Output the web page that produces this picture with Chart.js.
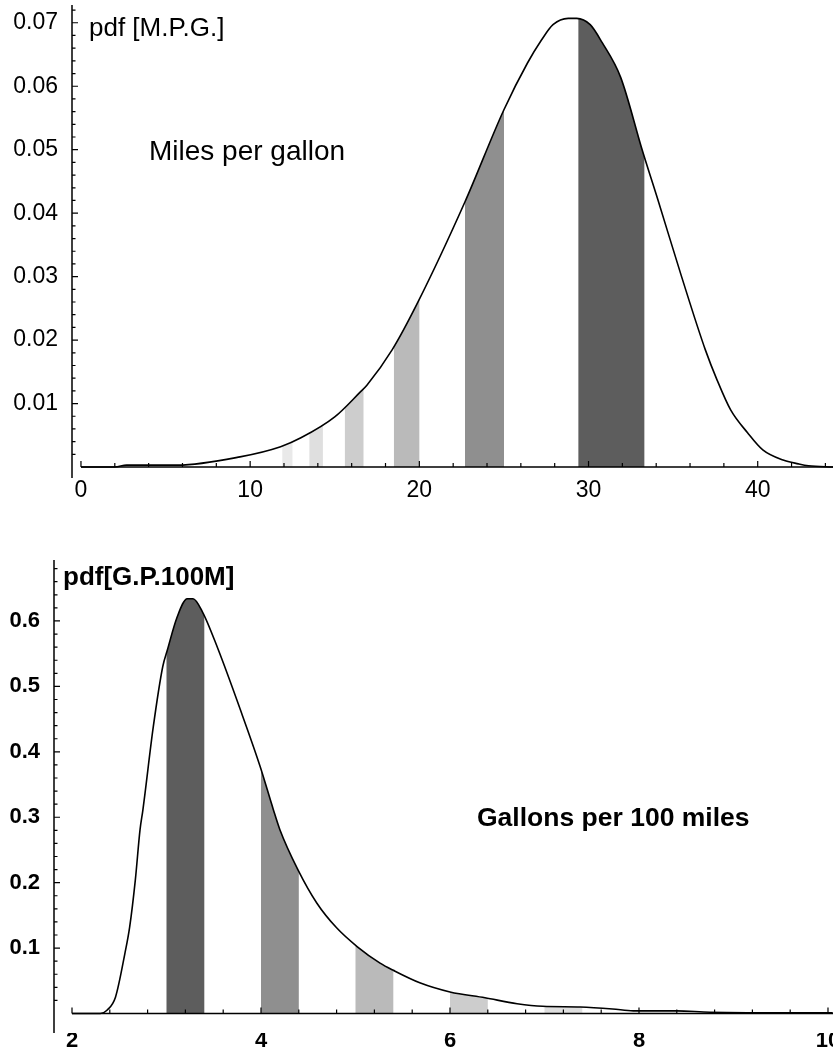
<!DOCTYPE html>
<html><head><meta charset="utf-8">
<script src="https://cdn.jsdelivr.net/npm/chart.js@4"></script>
<style>
html,body{margin:0;padding:0;background:#fff;width:833px;height:1051px;overflow:hidden}
#c1{position:absolute;left:0;top:0}
#c2{position:absolute;left:0;top:540px}
</style></head><body>
<canvas id="c1" width="833" height="510"></canvas>
<canvas id="c2" width="833" height="511"></canvas>
<script>
// ---------- Top chart: miles per gallon ----------
const mpgX   = [0, 2.0, 2.7, 5.7, 9.4, 11.8, 13.0, 15.0, 16.5, 16.9, 18.4, 19.9, 22.7, 25.0, 26.4, 27.2, 27.9, 28.8, 29.3, 30.1, 30.8, 31.9, 33.2, 34.1, 35.5, 36.9, 37.6, 38.4, 39.4, 40.3, 41.5, 42.4, 43.0, 44.5];
const mpgPdf = [0, 0, 0.0003, 0.0003, 0.0016, 0.0032, 0.0046, 0.0079, 0.0118, 0.0129, 0.0185, 0.0259, 0.0418, 0.0563, 0.0637, 0.0672, 0.0697, 0.0707, 0.0707, 0.0697, 0.0669, 0.0614, 0.0497, 0.0421, 0.0300, 0.0185, 0.0137, 0.0090, 0.0054, 0.0027, 0.0011, 0.0005, 0.0002, 0];
const mpgXTicks = [0, 10, 20, 30, 40];
const mpgXTickLabels = ['0', '10', '20', '30', '40'];
const mpgYTicks = [0.01, 0.02, 0.03, 0.04, 0.05, 0.06, 0.07];
const mpgYTickLabels = ['0.01', '0.02', '0.03', '0.04', '0.05', '0.06', '0.07'];
const mpgBandFrom = [11.9, 13.5, 15.6, 18.5, 22.7, 29.4];
const mpgBandTo   = [12.5, 14.3, 16.7, 20.0, 25.0, 33.3];
const mpgYLabel = 'pdf [M.P.G.]';
const mpgCaption = 'Miles per gallon';

// ---------- Bottom chart: gallons per 100 miles ----------
const gpmX   = [2.0, 2.30, 2.37, 2.46, 2.56, 2.61, 2.67, 2.72, 2.75, 2.86, 2.96, 3.01, 3.11, 3.22, 3.28, 3.38, 3.54, 3.78, 3.99, 4.13, 4.20, 4.39, 4.59, 4.80, 5.02, 5.26, 5.40, 5.68, 6.00, 6.37, 6.71, 6.98, 7.38, 7.72, 7.94, 8.40, 8.75, 10.05];
const gpmPdf = [0, 0, 0.005, 0.025, 0.092, 0.132, 0.204, 0.281, 0.311, 0.438, 0.530, 0.556, 0.605, 0.634, 0.634, 0.614, 0.559, 0.465, 0.378, 0.312, 0.281, 0.220, 0.169, 0.131, 0.102, 0.077, 0.066, 0.047, 0.033, 0.024, 0.015, 0.011, 0.010, 0.007, 0.004, 0.004, 0.002, 0.001];
const gpmXTicks = [2, 4, 6, 8, 10];
const gpmXTickLabels = ['2', '4', '6', '8', '10'];
const gpmYTicks = [0.1, 0.2, 0.3, 0.4, 0.5, 0.6];
const gpmYTickLabels = ['0.1', '0.2', '0.3', '0.4', '0.5', '0.6'];
const gpmBandFrom = [8.0, 7.0, 6.0, 5.0, 4.0, 3.0];
const gpmBandTo   = [8.4, 7.4, 6.4, 5.4, 4.4, 3.4];
const gpmYLabel = 'pdf[G.P.100M]';
const gpmCaption = 'Gallons per 100 miles';

const bandShades = ['#e9e9e9', '#dfdfdf', '#cdcdcd', '#bababa', '#8f8f8f', '#5d5d5d'];

function tracePath(ctx, pts) {
  for (let i = 1; i < pts.length; i++) {
    const p = pts[i - 1], c = pts[i];
    if (p.cp2x !== undefined && c.cp1x !== undefined) {
      ctx.bezierCurveTo(p.cp2x, p.cp2y, c.cp1x, c.cp1y, c.x, c.y);
    } else {
      ctx.lineTo(c.x, c.y);
    }
  }
}

function makeChart(id, o) {
  const decor = {
    id: 'decor',
    beforeDatasetsDraw(chart) {
      const ctx = chart.ctx, a = chart.chartArea;
      const xs = chart.scales.x, ys = chart.scales.y;
      const pts = chart.getDatasetMeta(0).data;
      const y0 = ys.getPixelForValue(0);
      o.bandFrom.forEach((f, i) => {
        const x1 = xs.getPixelForValue(f), x2 = xs.getPixelForValue(o.bandTo[i]);
        ctx.save();
        ctx.beginPath();
        ctx.rect(x1, a.top, x2 - x1, a.bottom - a.top);
        ctx.clip();
        ctx.beginPath();
        ctx.moveTo(pts[0].x, y0);
        ctx.lineTo(pts[0].x, pts[0].y);
        tracePath(ctx, pts);
        ctx.lineTo(pts[pts.length - 1].x, y0);
        ctx.closePath();
        ctx.fillStyle = o.bandColors[i];
        ctx.fill();
        ctx.restore();
      });
    },
    afterDatasetsDraw(chart) {
      const ctx = chart.ctx, a = chart.chartArea;
      const xs = chart.scales.x, ys = chart.scales.y;
      const y0 = ys.getPixelForValue(0);
      ctx.save();
      ctx.strokeStyle = '#000';
      ctx.lineWidth = 1.5;
      ctx.beginPath();
      ctx.moveTo(a.left, a.top); ctx.lineTo(a.left, a.bottom);
      ctx.moveTo(xs.getPixelForValue(o.xAxisStart), y0); ctx.lineTo(a.right, y0);
      ctx.stroke();
      ctx.lineWidth = 1.2;
      ctx.beginPath();
      const nY = Math.floor(o.yMax / o.yMinor + 1e-6);
      for (let k = 1; k <= nY; k++) {
        const v = k * o.yMinor;
        const major = o.yTicks.some(t => Math.abs(t - v) < o.yMinor / 10);
        const py = ys.getPixelForValue(v);
        ctx.moveTo(a.left, py); ctx.lineTo(a.left + (major ? 6 : 3.5), py);
      }
      const nX = Math.floor((o.xMax - o.xAxisStart) / o.xMinor + 1e-6);
      for (let k = 0; k <= nX; k++) {
        const v = o.xAxisStart + k * o.xMinor;
        const major = o.xTicks.some(t => Math.abs(t - v) < o.xMinor / 10);
        const px = xs.getPixelForValue(v);
        ctx.moveTo(px, y0); ctx.lineTo(px, y0 - (major ? 6 : 4));
      }
      ctx.stroke();
      ctx.fillStyle = '#000';
      ctx.textBaseline = 'alphabetic';
      ctx.textAlign = 'left';
      o.texts.forEach(t => {
        ctx.font = t.font;
        ctx.fillText(t.text, a.left + t.dx, a.top + t.dy);
      });
      ctx.restore();
    }
  };
  return new Chart(document.getElementById(id), {
    type: 'scatter',
    data: {
      datasets: [{
        data: o.xs.map((x, i) => ({ x: x, y: o.ys[i] })),
        showLine: true,
        borderColor: '#000',
        borderWidth: 1.6,
        pointRadius: 0,
        cubicInterpolationMode: 'monotone',
        fill: false
      }]
    },
    options: {
      responsive: false,
      animation: false,
      events: [],
      layout: { padding: { top: o.padTop, left: 0, right: 0, bottom: 0 } },
      plugins: { legend: { display: false }, tooltip: { enabled: false } },
      scales: {
        x: {
          type: 'linear', min: o.xMin, max: o.xMax,
          grid: { display: false, drawTicks: false }, border: { display: false },
          afterBuildTicks: s => { s.ticks = o.xTicks.map(v => ({ value: v })); },
          afterFit: s => { s.height = o.xAxisHeight; s.paddingLeft = 0; s.paddingRight = 0; },
          ticks: {
            autoSkip: false, maxRotation: 0, padding: o.xLabelPad, color: '#000',
            font: o.tickFont,
            callback: (v, i) => o.xLabels[i]
          }
        },
        y: {
          type: 'linear', min: o.yMin, max: o.yMax,
          grid: { display: false, drawTicks: false }, border: { display: false },
          afterBuildTicks: s => { s.ticks = o.yTicks.map(v => ({ value: v })); },
          afterFit: s => { s.width = o.yAxisWidth; s.paddingTop = 0; s.paddingBottom = 0; },
          ticks: {
            autoSkip: false, padding: 14, color: '#000',
            font: o.tickFont,
            callback: (v, i) => o.yLabels[i]
          }
        }
      }
    },
    plugins: [decor]
  });
}

makeChart('c1', {
  xs: mpgX, ys: mpgPdf,
  xMin: -0.53, xMax: 44.45, yMin: -0.00173, yMax: 0.0728,
  xTicks: mpgXTicks, xLabels: mpgXTickLabels, yTicks: mpgYTicks, yLabels: mpgYTickLabels,
  bandFrom: mpgBandFrom, bandTo: mpgBandTo, bandColors: bandShades.slice(),
  xMinor: 2, yMinor: 0.002, xAxisStart: 0,
  padTop: 5, yAxisWidth: 72, xAxisHeight: 32, xLabelPad: 1,
  tickFont: { family: 'Liberation Sans, Arial, sans-serif', size: 23, lineHeight: 1 },
  texts: [
    { text: mpgYLabel, dx: 17, dy: 31, font: '26px "Liberation Sans", Arial, sans-serif' },
    { text: mpgCaption, dx: 77, dy: 155, font: '28px "Liberation Sans", Arial, sans-serif' }
  ]
});

makeChart('c2', {
  xs: gpmX, ys: gpmPdf,
  xMin: 1.8095, xMax: 10.053, yMin: -0.0298, yMax: 0.6932,
  xTicks: gpmXTicks, xLabels: gpmXTickLabels, yTicks: gpmYTicks, yLabels: gpmYTickLabels,
  bandFrom: gpmBandFrom, bandTo: gpmBandTo, bandColors: bandShades.slice(),
  xMinor: 0.4, yMinor: 0.02, xAxisStart: 2,
  padTop: 20, yAxisWidth: 54, xAxisHeight: 18, xLabelPad: -3,
  tickFont: { family: 'Liberation Sans, Arial, sans-serif', size: 22, weight: 'bold', lineHeight: 1 },
  texts: [
    { text: gpmYLabel, dx: 9, dy: 25, font: 'bold 26px "Liberation Sans", Arial, sans-serif' },
    { text: gpmCaption, dx: 423, dy: 266, font: 'bold 26.5px "Liberation Sans", Arial, sans-serif' }
  ]
});
</script>
</body></html>
